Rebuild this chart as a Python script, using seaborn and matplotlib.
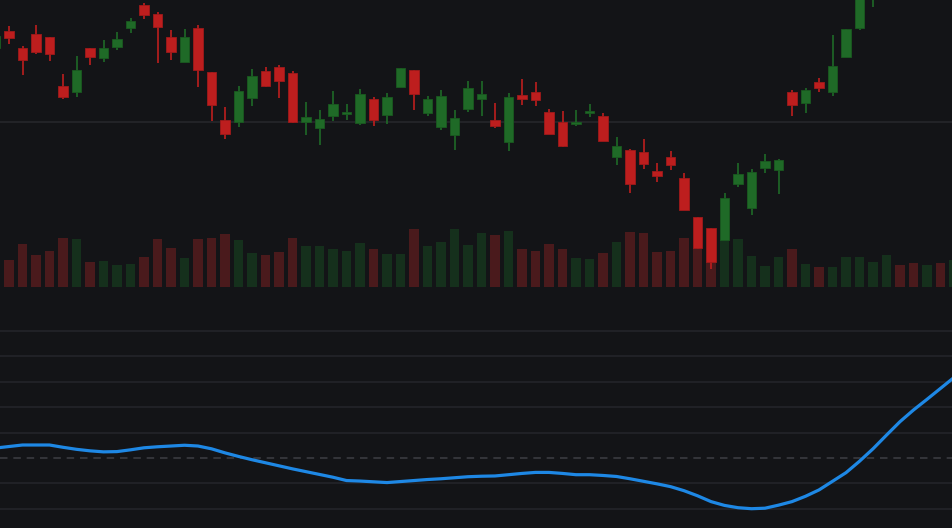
import numpy as np
import pandas as pd
import matplotlib
matplotlib.use("Agg")
import matplotlib.pyplot as plt
import seaborn as sns

# datos (indice de vela, OHLC, volumen, oscilador)
idx = list(range(-1, 71))

open_ = [107.4, 109.1, 107.4, 108.8, 108.5, 103.6, 103.0, 107.4, 106.4, 107.5,
         109.4, 111.7, 110.8, 108.5, 106.0, 109.4, 105.0, 100.2, 100.0, 102.4,
         105.1, 105.5, 104.9, 100.0, 99.4, 100.6, 100.8, 99.9, 102.3, 100.7,
         103.5, 105.2, 100.9, 99.5, 98.7, 101.3, 102.3, 100.2, 98.0, 102.7,
         103.0, 101.0, 100.0, 99.8, 100.9, 100.6, 96.5, 97.2, 97.0, 95.1,
         96.5, 94.4, 90.5, 89.4, 88.2, 93.8, 91.4, 95.4, 95.2, 103.0,
         101.9, 104.0, 103.0, 106.5, 109.4, 113.2, 115.5, 118.5, 117.6, 116.9,
         119.3, 118.6]
high = [108.7, 109.6, 107.6, 109.7, 108.5, 104.8, 106.6, 107.4, 108.2, 109.0,
        110.4, 111.9, 111.0, 109.2, 109.3, 109.7, 105.0, 101.5, 103.6, 105.3,
        105.5, 105.7, 105.1, 102.0, 101.2, 103.1, 101.8, 103.3, 102.5, 102.9,
        105.4, 105.2, 102.6, 103.2, 101.2, 104.1, 104.1, 101.9, 102.9, 104.3,
        104.0, 101.3, 101.1, 101.2, 101.8, 100.9, 98.5, 97.3, 98.3, 95.9,
        97.1, 94.9, 90.5, 89.4, 92.9, 95.9, 95.3, 96.8, 96.3, 103.2,
        103.4, 104.4, 108.7, 109.3, 113.5, 116.0, 118.3, 119.0, 118.1, 119.6,
        120.0, 120.8]
low = [107.3, 107.8, 104.7, 106.8, 106.1, 102.3, 102.5, 105.7, 106.0, 107.2,
       108.9, 110.3, 105.9, 106.2, 106.0, 103.5, 100.1, 98.3, 99.5, 101.6,
       103.5, 102.4, 99.9, 98.7, 97.7, 100.1, 100.2, 99.7, 99.6, 99.8,
       103.5, 101.2, 100.6, 99.2, 97.2, 101.0, 100.6, 99.4, 97.1, 101.7,
       101.6, 98.8, 97.5, 99.6, 100.5, 98.1, 95.7, 92.9, 95.3, 94.0,
       95.2, 91.2, 87.3, 85.3, 88.2, 93.5, 90.7, 94.9, 92.8, 100.6,
       100.9, 103.0, 102.6, 106.5, 109.2, 111.5, 114.9, 116.6, 116.0, 116.3,
       117.9, 118.0]
close = [108.6, 108.4, 106.2, 107.0, 106.8, 102.5, 105.2, 106.5, 107.4, 108.3,
         110.1, 110.7, 109.5, 107.0, 108.5, 105.2, 101.7, 98.8, 103.1, 104.6,
         103.6, 104.1, 100.0, 100.5, 100.3, 101.8, 101.0, 102.8, 100.2, 102.5,
         105.4, 102.8, 102.3, 102.6, 100.4, 103.4, 102.8, 99.6, 102.5, 102.3,
         102.2, 98.8, 97.6, 100.0, 101.1, 98.1, 97.6, 93.8, 95.8, 94.6,
         95.7, 91.2, 87.4, 86.0, 92.4, 94.8, 95.0, 96.1, 96.2, 101.7,
         103.2, 103.4, 105.6, 109.3, 113.0, 115.5, 117.8, 117.2, 116.8, 119.0,
         118.4, 120.2]
volume = [320, 270, 430, 320, 360, 490, 480, 250, 260, 220,
          230, 300, 480, 390, 290, 480, 490, 530, 470, 340,
          320, 350, 490, 410, 410, 380, 360, 440, 380, 330,
          330, 580, 410, 450, 580, 420, 540, 520, 560, 380,
          360, 430, 380, 290, 280, 340, 450, 550, 540, 350,
          360, 490, 390, 250, 470, 480, 310, 210, 300, 380,
          230, 200, 200, 300, 300, 250, 320, 220, 240, 220,
          240, 270]
oscilador = [0.39, 0.45, 0.51, 0.51, 0.51, 0.42, 0.34, 0.28, 0.24, 0.25,
             0.32, 0.40, 0.44, 0.47, 0.50, 0.47, 0.36, 0.20, 0.06, -0.07,
             -0.19, -0.31, -0.43, -0.54, -0.65, -0.76, -0.89, -0.91, -0.94, -0.97,
             -0.93, -0.89, -0.85, -0.82, -0.78, -0.74, -0.72, -0.71, -0.66, -0.61,
             -0.57, -0.57, -0.61, -0.66, -0.66, -0.69, -0.73, -0.82, -0.92, -1.02,
             -1.13, -1.29, -1.49, -1.72, -1.87, -1.96, -2.00, -1.98, -1.86, -1.72,
             -1.51, -1.26, -0.92, -0.58, -0.13, 0.36, 0.90, 1.43, 1.89, 2.31,
             2.74, 3.17]

df = pd.DataFrame({"idx": idx, "open": open_, "high": high, "low": low,
                   "close": close, "volume": volume, "osc": oscilador})
df["sube"] = df["close"] >= df["open"]

fondo = "#131417"
rojo, verde = "#bd1e1e", "#1f6a27"
rojo_borde, verde_borde = "#a01a1a", "#195a20"
rojo_vol, verde_vol = "#4a1a1c", "#15301c"
azul = "#1e88e5"

sns.set_theme(style="dark", rc={"axes.facecolor": fondo, "figure.facecolor": fondo,
                                "savefig.facecolor": fondo})

fig = plt.figure(figsize=(9.52, 5.28), dpi=100)
x_lim = (-9 / 13.5, (952 - 9) / 13.5)

# panel de precio con volumen detras
ax_vol = fig.add_axes([0, 228 / 528, 1, 300 / 528])
ax = ax_vol.twinx()
ax.patch.set_visible(False)

col_vol = np.where(df["sube"], verde_vol, rojo_vol)
ax_vol.bar(df["idx"], df["volume"], width=0.74, color=col_vol, linewidth=0)
ax_vol.set_ylim(-130, 2870)

ax.axhline(100, color="#27282d", lw=1.1, zorder=0)
col = np.where(df["sube"], verde, rojo)
borde = np.where(df["sube"], verde_borde, rojo_borde)
ax.vlines(df["idx"], df["low"], df["high"], colors=col, lw=1.2, zorder=2)
cuerpo_bajo = df[["open", "close"]].min(axis=1)
cuerpo_alto = (df["close"] - df["open"]).abs().clip(lower=0.2)
ax.bar(df["idx"], cuerpo_alto, bottom=cuerpo_bajo, width=0.72, color=col,
       edgecolor=borde, linewidth=0.6, zorder=3)
ax.set_ylim(82.2, 112.2)

# panel del oscilador
ax2 = fig.add_axes([0, 0, 1, 216 / 528])
for nivel in [-2, -1, 1, 2, 3, 4, 5]:
    ax2.axhline(nivel, color="#25262b", lw=1.1, zorder=0)
ax2.axhline(0, color="#3a3b40", lw=1.2, dashes=(4.5, 3.5), zorder=0)
sns.lineplot(data=df, x="idx", y="osc", ax=ax2, color=azul, lw=2.3, zorder=3)
ax2.set_ylim(-2.76, 5.75)

for a in (ax_vol, ax, ax2):
    a.set_xlim(*x_lim)
    a.set_xticks([])
    a.set_yticks([])
    a.set_xlabel("")
    a.set_ylabel("")
    for s in a.spines.values():
        s.set_visible(False)
ax_vol.set_facecolor(fondo)
ax2.set_facecolor(fondo)

fig.savefig("out.png", dpi=100, facecolor=fondo)
